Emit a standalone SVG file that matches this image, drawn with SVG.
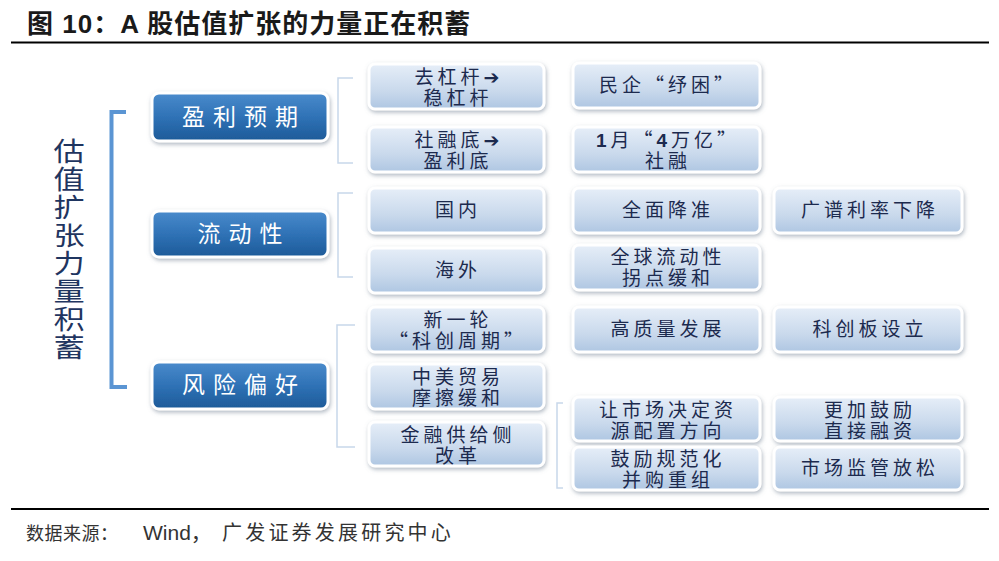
<svg xmlns="http://www.w3.org/2000/svg" width="999" height="561" viewBox="0 0 999 561">
<defs>
<linearGradient id="gl" x1="0" y1="0" x2="0" y2="1">
<stop offset="0" stop-color="#e6eef8"/>
<stop offset="0.6" stop-color="#c9d9ec"/>
<stop offset="1" stop-color="#aec6e2"/>
</linearGradient>
<linearGradient id="gb" x1="0" y1="0" x2="0" y2="1">
<stop offset="0" stop-color="#4a8bcc"/>
<stop offset="0.5" stop-color="#2f72b6"/>
<stop offset="1" stop-color="#1d5a98"/>
</linearGradient>
<filter id="sh" x="-10%" y="-20%" width="120%" height="150%">
<feDropShadow dx="1" dy="2" stdDeviation="2" flood-color="#6f7f92" flood-opacity="0.55"/>
</filter>
</defs>
<style>
.lb{fill:url(#gl);stroke:#ffffff;stroke-width:3;filter:url(#sh)}
.bb{fill:url(#gb);stroke:#ffffff;stroke-width:3;filter:url(#sh)}
.t{font-family:"Noto Sans CJK SC","Liberation Sans",sans-serif;font-size:19px;fill:#1c2a4e;text-anchor:middle;letter-spacing:4px}
.bt{font-family:"Noto Sans CJK SC",sans-serif;font-size:23px;fill:#ffffff;text-anchor:middle;letter-spacing:8px}
.br{fill:none;stroke:#c8d7ea;stroke-width:1.5}
.ar{font-family:"DejaVu Sans",sans-serif;font-weight:bold;font-size:19px}
</style>
<rect width="999" height="561" fill="#ffffff"/>
<text x="27" y="33" font-family="'Liberation Sans','Noto Sans CJK SC',sans-serif" font-weight="bold" font-size="26" letter-spacing="1" fill="#1a1a1a">图 10：A 股估值扩张的力量正在积蓄</text>
<line x1="11" y1="42.5" x2="989" y2="42.5" stroke="#000" stroke-width="2"/>
<line x1="11" y1="509" x2="989" y2="509" stroke="#000" stroke-width="2"/>
<g font-family="'Liberation Sans','Noto Sans CJK SC',sans-serif" fill="#333333">
<text x="26" y="540" font-size="18" letter-spacing="0.5">数据来源：</text>
<text x="143" y="540" font-size="21">Wind，</text>
<text x="222" y="540" font-size="20" letter-spacing="3.2">广发证券发展研究中心</text>
</g>

<g id="title-vertical" transform="translate(69,0) scale(1.2,1) translate(-69,0)">
<text x="69" y="138" writing-mode="vertical-rl" font-family="'Noto Sans CJK SC',sans-serif" font-size="26" letter-spacing="2" fill="#1f3560">估值扩张力量积蓄</text>
</g>

<g id="connectors">
<path d="M126,112 H111.5 V387 H127" fill="none" stroke="#5b95d3" stroke-width="4"/>
<path class="br" d="M353,78 H338 V163 H353"/>
<path class="br" d="M353,193 H338 V277 H353"/>
<path class="br" d="M355,325 H337 V447 H355"/>
<path class="br" d="M563,403 H557 V488 H563"/>
</g>

<g id="n-yingli"><rect class="bb" x="152" y="93" width="176" height="48" rx="7"/><text class="bt" x="244" y="125">盈利预期</text></g>
<g id="n-liudong"><rect class="bb" x="152" y="211" width="176" height="46" rx="7"/><text class="bt" x="244" y="242">流动性</text></g>
<g id="n-fengxian"><rect class="bb" x="152" y="362" width="176" height="47" rx="7"/><text class="bt" x="244" y="393">风险偏好</text></g>

<g id="n-qugangan"><rect class="lb" x="369" y="64" width="175" height="45" rx="6"/><text class="t"><tspan x="459" y="84">去杠杆<tspan class="ar">➔</tspan></tspan><tspan x="458" y="105">稳杠杆</tspan></text></g>
<g id="n-sherongdi"><rect class="lb" x="369" y="127" width="175" height="45" rx="6"/><text class="t"><tspan x="459" y="147">社融底<tspan class="ar">➔</tspan></tspan><tspan x="458" y="168">盈利底</tspan></text></g>
<g id="n-guonei"><rect class="lb" x="369" y="188" width="175" height="45" rx="6"/><text class="t" x="458" y="217">国内</text></g>
<g id="n-haiwai"><rect class="lb" x="369" y="248" width="175" height="45" rx="6"/><text class="t" x="458" y="277">海外</text></g>
<g id="n-xinyilun"><rect class="lb" x="369" y="307" width="175" height="45" rx="6"/><text class="t"><tspan x="458" y="327">新一轮</tspan><tspan x="458" y="348">“科创周期”</tspan></text></g>
<g id="n-zhongmei"><rect class="lb" x="369" y="364" width="175" height="45" rx="6"/><text class="t"><tspan x="458" y="384">中美贸易</tspan><tspan x="458" y="405">摩擦缓和</tspan></text></g>
<g id="n-jinrong"><rect class="lb" x="369" y="422" width="175" height="44" rx="6"/><text class="t"><tspan x="458" y="442">金融供给侧</tspan><tspan x="458" y="463">改革</tspan></text></g>

<g id="n-minqi"><rect class="lb" x="573" y="63" width="187" height="45" rx="6"/><text class="t" x="668" y="92">民企“纾困”</text></g>
<g id="n-siwanyi"><rect class="lb" x="573" y="127" width="187" height="45" rx="6"/><text class="t"><tspan x="668" y="147"><tspan font-family="'Liberation Sans',sans-serif" font-weight="bold">1</tspan>月“<tspan font-family="'Liberation Sans',sans-serif" font-weight="bold">4</tspan>万亿”</tspan><tspan x="668" y="168">社融</tspan></text></g>
<g id="n-quanmian"><rect class="lb" x="573" y="188" width="187" height="45" rx="6"/><text class="t" x="668" y="217">全面降准</text></g>
<g id="n-quanqiu"><rect class="lb" x="573" y="245" width="187" height="45" rx="6"/><text class="t"><tspan x="668" y="264">全球流动性</tspan><tspan x="668" y="285">拐点缓和</tspan></text></g>
<g id="n-gaozhiliang"><rect class="lb" x="573" y="307" width="187" height="45" rx="6"/><text class="t" x="668" y="336">高质量发展</text></g>
<g id="n-shichang"><rect class="lb" x="573" y="397" width="187" height="44" rx="6"/><text class="t"><tspan x="668" y="417">让市场决定资</tspan><tspan x="668" y="438">源配置方向</tspan></text></g>
<g id="n-binggou"><rect class="lb" x="573" y="447" width="187" height="43" rx="6"/><text class="t"><tspan x="668" y="466">鼓励规范化</tspan><tspan x="668" y="487">并购重组</tspan></text></g>

<g id="n-guangpu"><rect class="lb" x="774" y="188" width="188" height="45" rx="6"/><text class="t" x="870" y="217">广谱利率下降</text></g>
<g id="n-kechuangban"><rect class="lb" x="774" y="307" width="188" height="45" rx="6"/><text class="t" x="870" y="336">科创板设立</text></g>
<g id="n-zhijie"><rect class="lb" x="774" y="397" width="188" height="44" rx="6"/><text class="t"><tspan x="870" y="417">更加鼓励</tspan><tspan x="870" y="438">直接融资</tspan></text></g>
<g id="n-jianguan"><rect class="lb" x="774" y="447" width="188" height="43" rx="6"/><text class="t" x="870" y="475">市场监管放松</text></g>
</svg>
